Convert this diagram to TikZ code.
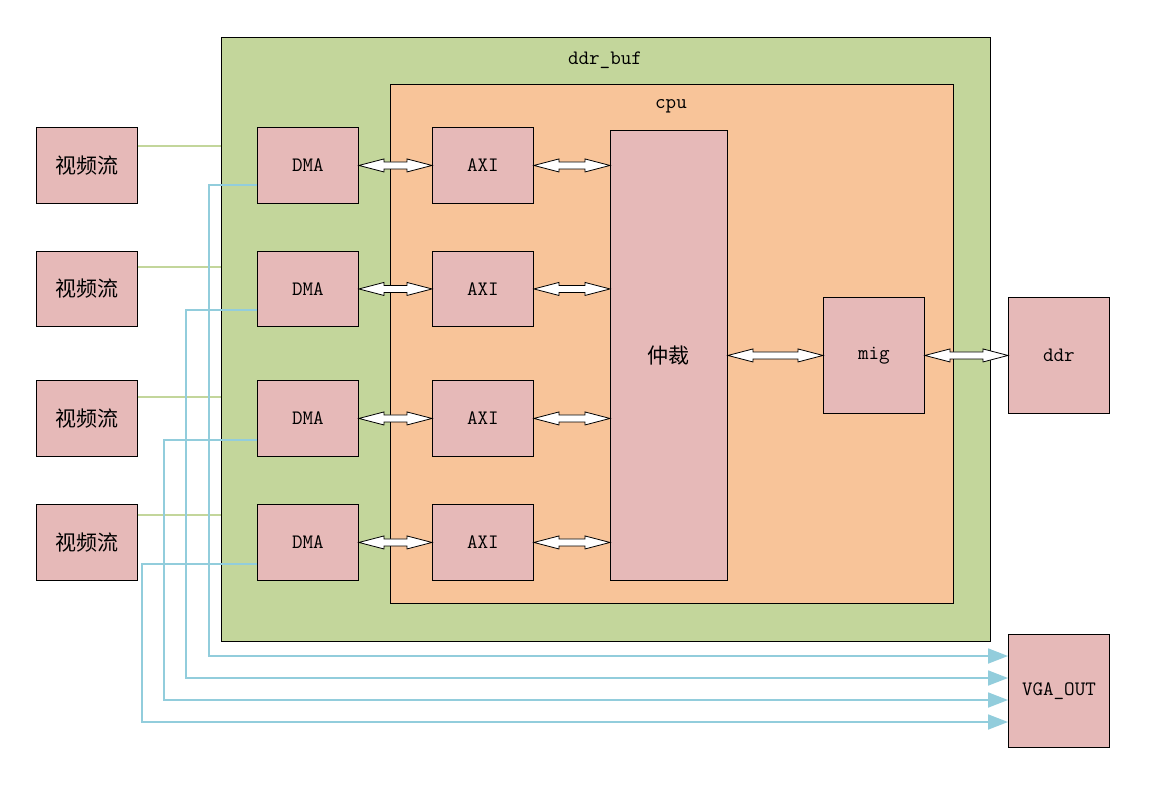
\documentclass[tikz,border=0pt]{standalone}
\usepackage{fontspec}
\newfontfamily\cjk{Noto Sans CJK SC}
\usetikzlibrary{arrows.meta,calc}
\definecolor{bufgreen}{HTML}{C3D69B}
\definecolor{cpuorange}{HTML}{F8C499}
\definecolor{boxpink}{HTML}{E6B9B8}
\definecolor{lineblue}{HTML}{92CDDC}
\definecolor{linegreen}{HTML}{C3D69B}
\tikzset{
  blk/.style={draw=black, line width=0.9pt, fill=boxpink, minimum width=101pt, anchor=north west, inner sep=0pt, font=\ttfamily\fontsize{20.5}{20.5}\selectfont},
  cn/.style={font=\cjk\fontsize{21}{21}\selectfont},
  region/.style={draw=black, line width=0.9pt},
  blockarrow/.style={draw=black, line width=0.8pt, fill=white, line join=miter},
  vline/.style={draw=lineblue, line width=1.8pt, -{Triangle[length=20pt,width=15pt]}},
  gline/.style={draw=linegreen, line width=1.6pt},
  lbl/.style={font=\ttfamily\fontsize{20.5}{20.5}\selectfont}
}
\newcommand\dblarr[2]{\draw[blockarrow] let \p1=(#1.east), \p2=(#2.west) in
  (\x1,\y1) -- (\x1+25pt,\y1+6.5pt) -- (\x1+25pt,\y1+3.5pt) -- (\x2-25pt,\y1+3.5pt) -- (\x2-25pt,\y1+6.5pt) -- (\x2,\y1)
  -- (\x2-25pt,\y1-6.5pt) -- (\x2-25pt,\y1-3.5pt) -- (\x1+25pt,\y1-3.5pt) -- (\x1+25pt,\y1-6.5pt) -- cycle;}
\begin{document}
\begin{tikzpicture}[x=1pt,y=-1pt]
\useasboundingbox[fill=white] (0,0) rectangle (1153,786);
% regions
\draw[region, fill=bufgreen] (221,37) rectangle (990,641);
\node[draw=none, inner sep=0pt, minimum width=769pt, minimum height=604pt] (buf) at (605.5,339) {};
\node[lbl] (buflbl) at (605,60) {ddr\_buf};
\draw[region, fill=cpuorange] (390,84) rectangle (953,603);
\node[lbl] (cpulbl) at (671,106) {cpu};
% video sources
\node[blk, cn, minimum height=76pt] (v1) at (36,127) {视频流};
\node[blk, cn, minimum height=75pt] (v2) at (36,251) {视频流};
\node[blk, cn, minimum height=76pt] (v3) at (36,380) {视频流};
\node[blk, cn, minimum height=76pt] (v4) at (36,504) {视频流};
% DMA
\node[blk, minimum height=76pt] (d1) at (257,127) {DMA};
\node[blk, minimum height=75pt] (d2) at (257,251) {DMA};
\node[blk, minimum height=76pt] (d3) at (257,380) {DMA};
\node[blk, minimum height=76pt] (d4) at (257,504) {DMA};
% AXI
\node[blk, minimum height=76pt] (a1) at (432,127) {AXI};
\node[blk, minimum height=75pt] (a2) at (432,251) {AXI};
\node[blk, minimum height=76pt] (a3) at (432,380) {AXI};
\node[blk, minimum height=76pt] (a4) at (432,504) {AXI};
% arbiter, mig, ddr, vga
\node[blk, cn, minimum width=117pt, minimum height=450pt] (arb) at (610,130) {仲裁};
\node[blk, minimum height=116pt] (mig) at (823,297) {mig};
\node[blk, minimum height=116pt] (ddr) at (1008,297) {ddr};
\node[blk, minimum height=113pt] (vga) at (1008,634) {VGA\_OUT};
% green lines
\draw[gline] (v1.east |- 0,146) -- (buf.west |- 0,146);
\draw[gline] (v2.east |- 0,267) -- (buf.west |- 0,267);
\draw[gline] (v3.east |- 0,397) -- (buf.west |- 0,397);
\draw[gline] (v4.east |- 0,515) -- (buf.west |- 0,515);
% blue lines to VGA
\draw[vline] (d1.west |- 0,185) -| (209,656) -- (vga.west |- 0,656);
\draw[vline] (d2.west |- 0,310) -| (186,678) -- (vga.west |- 0,678);
\draw[vline] (d3.west |- 0,440) -| (164,700) -- (vga.west |- 0,700);
\draw[vline] (d4.west |- 0,564) -| (142,722) -- (vga.west |- 0,722);
% double arrows
\dblarr{d1}{a1}\dblarr{d2}{a2}\dblarr{d3}{a3}\dblarr{d4}{a4}
\dblarr{a1}{arb}\dblarr{a2}{arb}\dblarr{a3}{arb}\dblarr{a4}{arb}
\dblarr{arb}{mig}\dblarr{mig}{ddr}
\end{tikzpicture}
\end{document}
